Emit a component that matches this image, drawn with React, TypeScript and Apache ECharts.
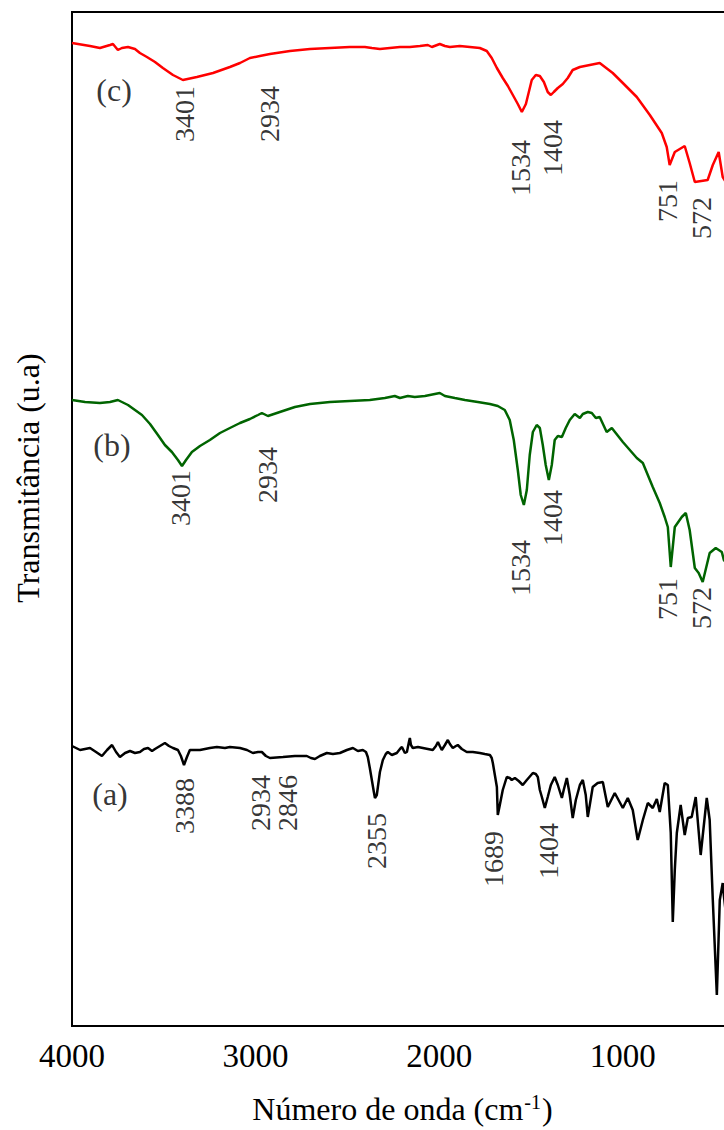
import React, { useEffect, useRef } from "react";
import * as echarts from "echarts";

const FONT = "Liberation Serif";

const wavenumberTicks = [4000, 3000, 2000, 1000];

// (c) red spectrum: [wavenumber, transmittance (a.u.)]
const curveC: [number, number][] = [
  [4000, 983], [3902, 980], [3848, 978], [3793, 981], [3777, 982], [3750, 976], [3728, 978], [3695, 979],
  [3657, 977], [3630, 973], [3592, 969], [3548, 964], [3505, 958], [3450, 951], [3396, 946], [3320, 949],
  [3232, 953], [3140, 959], [3085, 963], [3031, 968], [2977, 970], [2922, 972], [2813, 975], [2704, 977],
  [2596, 978], [2487, 979], [2405, 979], [2367, 978], [2323, 977], [2269, 978], [2214, 979], [2160, 979],
  [2105, 980], [2062, 981], [2040, 979], [1997, 982], [1969, 980], [1942, 979], [1888, 980], [1833, 979],
  [1779, 978], [1741, 975], [1714, 968], [1686, 958], [1654, 948], [1626, 940], [1599, 931], [1572, 922],
  [1550, 914], [1528, 922], [1512, 934], [1496, 946], [1474, 951], [1452, 950], [1430, 944], [1409, 934],
  [1392, 931], [1376, 934], [1354, 938], [1327, 942], [1300, 948], [1273, 956], [1234, 959], [1180, 961],
  [1126, 963], [1055, 953], [1000, 943], [924, 929], [853, 911], [788, 893], [761, 879], [745, 861],
  [717, 874], [663, 880], [636, 863], [608, 844], [538, 846], [510, 861], [478, 874], [456, 849],
  [429, 841], [400, 851],
];

// (b) green spectrum
const curveB: [number, number][] = [
  [4000, 626], [3929, 624], [3848, 623], [3793, 624], [3750, 626], [3728, 624], [3695, 621], [3657, 616],
  [3619, 611], [3575, 602], [3532, 591], [3494, 581], [3456, 574], [3423, 566], [3401, 560], [3379, 566],
  [3347, 574], [3303, 580], [3249, 586], [3194, 593], [3140, 598], [3085, 603], [3031, 607], [2987, 611],
  [2966, 613], [2933, 610], [2868, 614], [2786, 619], [2704, 622], [2595, 624], [2487, 625], [2378, 626],
  [2296, 628], [2242, 630], [2214, 628], [2171, 630], [2133, 629], [2078, 630], [2024, 632], [1997, 633],
  [1969, 630], [1915, 628], [1860, 626], [1790, 624], [1724, 622], [1681, 620], [1643, 616], [1616, 606],
  [1594, 586], [1572, 556], [1556, 531], [1539, 521], [1523, 536], [1507, 571], [1490, 594], [1469, 601],
  [1452, 598], [1436, 581], [1420, 561], [1403, 546], [1387, 561], [1371, 586], [1354, 590], [1332, 589],
  [1311, 598], [1289, 606], [1262, 612], [1234, 608], [1218, 612], [1191, 614], [1169, 613], [1147, 608],
  [1126, 609], [1088, 594], [1060, 598], [1000, 584], [924, 568], [891, 563], [837, 539], [799, 523],
  [772, 509], [755, 499], [739, 459], [717, 499], [679, 509], [657, 513], [636, 496], [608, 458],
  [587, 453], [565, 444], [527, 473], [494, 478], [461, 474], [450, 466], [429, 461], [400, 466],
];

// (a) black spectrum
const curveA: [number, number][] = [
  [4000, 280], [3956, 276], [3902, 278], [3869, 274], [3837, 270], [3809, 276], [3782, 281], [3760, 274],
  [3739, 269], [3711, 273], [3684, 275], [3657, 273], [3630, 274], [3608, 277], [3586, 278], [3564, 275],
  [3548, 277], [3521, 280], [3494, 283], [3472, 280], [3450, 278], [3423, 276], [3407, 270], [3390, 261],
  [3374, 269], [3358, 276], [3303, 276], [3249, 278], [3211, 279], [3167, 278], [3140, 279], [3085, 278],
  [3047, 276], [3015, 273], [2987, 274], [2966, 274], [2944, 270], [2922, 268], [2851, 269], [2786, 270],
  [2721, 270], [2699, 268], [2677, 267], [2650, 270], [2612, 273], [2579, 272], [2541, 273], [2503, 276],
  [2470, 278], [2443, 275], [2416, 276], [2399, 274], [2389, 269], [2378, 258], [2367, 246], [2356, 234],
  [2350, 228], [2340, 231], [2334, 239], [2323, 254], [2307, 266], [2291, 272], [2280, 274], [2258, 271],
  [2231, 273], [2214, 277], [2203, 279], [2187, 273], [2176, 274], [2165, 284], [2160, 288], [2154, 281],
  [2144, 278], [2116, 279], [2089, 278], [2062, 277], [2035, 276], [2018, 280], [2007, 284], [1997, 280],
  [1986, 276], [1969, 281], [1953, 286], [1942, 282], [1926, 278], [1909, 280], [1899, 281], [1877, 277],
  [1850, 274], [1817, 274], [1779, 273], [1752, 272], [1724, 271], [1714, 268], [1708, 263], [1697, 251],
  [1686, 239], [1681, 211], [1670, 221], [1654, 236], [1632, 249], [1616, 248], [1605, 246], [1588, 248],
  [1567, 245], [1545, 241], [1523, 246], [1490, 253], [1474, 252], [1463, 249], [1452, 236], [1441, 229],
  [1425, 218], [1409, 229], [1392, 241], [1371, 249], [1354, 241], [1332, 228], [1322, 236], [1305, 248],
  [1289, 231], [1273, 208], [1256, 226], [1234, 241], [1218, 246], [1202, 231], [1191, 209], [1180, 221],
  [1164, 239], [1137, 243], [1109, 244], [1082, 219], [1044, 233], [1000, 218], [973, 228], [946, 216],
  [919, 186], [891, 206], [864, 223], [837, 218], [815, 227], [799, 214], [772, 243], [755, 241],
  [739, 193], [728, 104], [717, 156], [706, 193], [685, 221], [663, 191], [646, 208], [625, 209],
  [603, 229], [576, 171], [543, 228], [527, 206], [510, 126], [488, 31], [472, 126], [456, 143],
  [450, 131], [429, 96], [400, 106],
];

// peak annotations: [text, wavenumber at label, value at top of label]
const peaksC: [string, number, number][] = [
  ["3401", 3385, 940], ["2934", 2922, 940], ["1534", 1556, 886], ["1404", 1382, 906], ["751", 756, 846], ["572", 570, 829],
];
const peaksB: [string, number, number][] = [
  ["3401", 3407, 556], ["2934", 2933, 579], ["1534", 1556, 486], ["1404", 1382, 536], ["751", 756, 448], ["572", 570, 439],
];
const peaksA: [string, number, number][] = [
  ["3388", 3390, 248], ["2934", 2971, 251], ["2846", 2824, 251], ["2355", 2340, 213], ["1689", 1703, 195], ["1404", 1403, 203],
];

// sample tags: [text, wavenumber, value]
const sampleTags: [string, number, number][] = [
  ["(c)", 3771, 936], ["(b)", 3782, 581], ["(a)", 3793, 232],
];

const seriesColors = ["#ff0000", "#006400", "#000000"];

function peakSeries(peaks: [string, number, number][]) {
  return {
    type: "scatter",
    silent: true,
    symbolSize: 0,
    data: peaks.map(([t, w, v]) => ({ name: t, value: [w, v] })),
    label: {
      show: true,
      formatter: "{b}",
      position: "inside",
      rotate: 90,
      align: "right",
      verticalAlign: "middle",
      fontSize: 28,
      fontFamily: FONT,
      color: "#000",
    },
    z: 5,
  };
}

export default function App() {
  const ref = useRef<HTMLDivElement>(null);
  useEffect(() => {
    if (!ref.current) return;
    const chart = echarts.init(ref.current, null, { renderer: "svg" });
    chart.setOption({
      animation: false,
      backgroundColor: "#fff",
      textStyle: { fontFamily: FONT },
      grid: {
        left: 72,
        top: 12,
        width: 661,
        height: 1014,
        show: true,
        borderColor: "#000",
        borderWidth: 2,
        backgroundColor: "transparent",
        outerBoundsMode: "none",
        containLabel: false,
      },
      xAxis: {
        type: "value",
        min: 400,
        max: 4000,
        inverse: true,
        splitNumber: 5,
        axisLine: { show: true, onZero: false, lineStyle: { color: "#000", width: 2 } },
        axisTick: { show: false },
        splitLine: { show: false },
        axisLabel: {
          formatter: (v: number) => (wavenumberTicks.includes(v) ? String(v) : ""),
          fontSize: 33,
          fontFamily: FONT,
          color: "#000",
          margin: 13,
        },
        name: "Número de onda (cm{s|-1})",
        nameLocation: "middle",
        nameGap: 66,
        nameMoveOverlap: false,
        nameTextStyle: {
          fontSize: 32,
          fontFamily: FONT,
          color: "#000",
          rich: {
            s: { fontSize: 20, fontFamily: FONT, color: "#000", verticalAlign: "top", padding: [0, 1, 14, 1] },
          },
        },
      },
      yAxis: {
        type: "value",
        min: 0,
        max: 1014,
        axisLine: { show: true, onZero: false, lineStyle: { color: "#000", width: 2 } },
        axisTick: { show: false },
        axisLabel: { show: false },
        splitLine: { show: false },
      },
      graphic: [
        {
          type: "text",
          x: 28,
          y: 478,
          rotation: Math.PI / 2,
          style: {
            text: "Transmitância (u.a)",
            font: `32px ${FONT}`,
            fontFamily: FONT,
            fontSize: 32,
            fill: "#000",
            align: "center",
            verticalAlign: "middle",
            textAlign: "center",
            textVerticalAlign: "middle",
          },
        },
      ],
      series: [
        { type: "line", data: curveC, showSymbol: false, symbol: "none", lineStyle: { color: seriesColors[0], width: 2.5 }, silent: true },
        { type: "line", data: curveB, showSymbol: false, symbol: "none", lineStyle: { color: seriesColors[1], width: 2.5 }, silent: true },
        { type: "line", data: curveA, showSymbol: false, symbol: "none", lineStyle: { color: seriesColors[2], width: 2.5 }, silent: true },
        peakSeries(peaksC),
        peakSeries(peaksB),
        peakSeries(peaksA),
        {
          type: "scatter",
          silent: true,
          symbolSize: 0,
          data: sampleTags.map(([t, w, v]) => ({ name: t, value: [w, v] })),
          label: {
            show: true,
            formatter: "{b}",
            position: "inside",
            align: "center",
            verticalAlign: "middle",
            fontSize: 32,
            fontFamily: FONT,
            color: "#000",
          },
        },
      ],
    });
    return () => chart.dispose();
  }, []);
  return (
    <div
      ref={ref}
      style={{ position: "absolute", left: 0, top: 0, width: 724, height: 1130, background: "#fff" }}
    />
  );
}
